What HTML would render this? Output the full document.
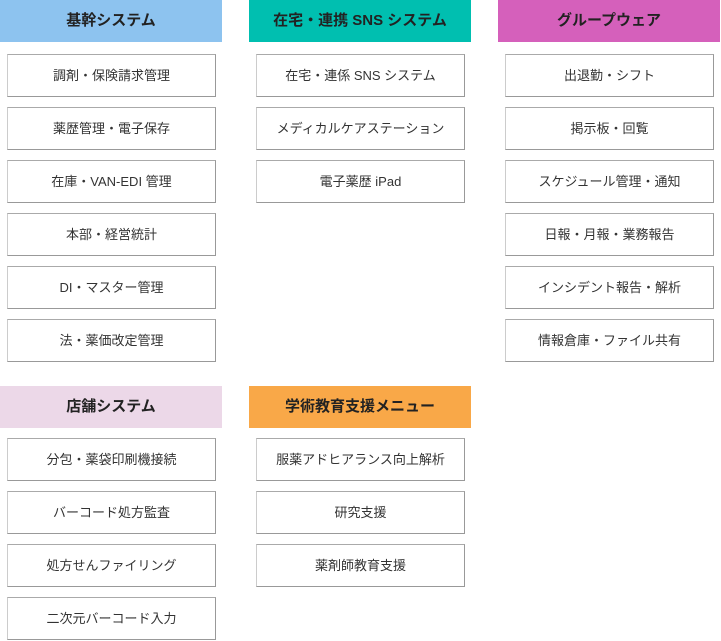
<!DOCTYPE html>
<html><head><meta charset="utf-8"><style>
body{margin:0;width:721px;height:641px;background:#fff;position:relative;font-family:"Liberation Sans","Noto Sans CJK JP",sans-serif;color:#333}
.h{position:absolute;width:222px;height:42px;line-height:42px;text-align:center;font-weight:bold;font-size:15px;color:#222}
.b{position:absolute;width:207px;height:41px;line-height:41px;text-align:center;font-size:13px;border:1px solid #999;border-left-color:#ccc;border-top-color:#aaa;background:#fff;color:#333}
</style></head><body>
<div class="h" style="left:0;top:0;background:#8dc3ef">基幹システム</div>
<div class="h" style="left:249px;top:0;background:#00bfb0">在宅・連携 SNS システム</div>
<div class="h" style="left:498px;top:0;background:#d560bb">グループウェア</div>
<div class="h" style="left:0;top:386px;background:#ecd8e8">店舗システム</div>
<div class="h" style="left:249px;top:386px;background:#f9a848">学術教育支援メニュー</div>

<div class="b" style="left:7px;top:54px">調剤・保険請求管理</div>
<div class="b" style="left:7px;top:107px">薬歴管理・電子保存</div>
<div class="b" style="left:7px;top:160px">在庫・VAN-EDI 管理</div>
<div class="b" style="left:7px;top:213px">本部・経営統計</div>
<div class="b" style="left:7px;top:266px">DI・マスター管理</div>
<div class="b" style="left:7px;top:319px">法・薬価改定管理</div>

<div class="b" style="left:256px;top:54px">在宅・連係 SNS システム</div>
<div class="b" style="left:256px;top:107px">メディカルケアステーション</div>
<div class="b" style="left:256px;top:160px">電子薬歴 iPad</div>

<div class="b" style="left:505px;top:54px">出退勤・シフト</div>
<div class="b" style="left:505px;top:107px">掲示板・回覧</div>
<div class="b" style="left:505px;top:160px">スケジュール管理・通知</div>
<div class="b" style="left:505px;top:213px">日報・月報・業務報告</div>
<div class="b" style="left:505px;top:266px">インシデント報告・解析</div>
<div class="b" style="left:505px;top:319px">情報倉庫・ファイル共有</div>

<div class="b" style="left:7px;top:438px">分包・薬袋印刷機接続</div>
<div class="b" style="left:7px;top:491px">バーコード処方監査</div>
<div class="b" style="left:7px;top:544px">処方せんファイリング</div>
<div class="b" style="left:7px;top:597px">二次元バーコード入力</div>

<div class="b" style="left:256px;top:438px">服薬アドヒアランス向上解析</div>
<div class="b" style="left:256px;top:491px">研究支援</div>
<div class="b" style="left:256px;top:544px">薬剤師教育支援</div>
</body></html>
